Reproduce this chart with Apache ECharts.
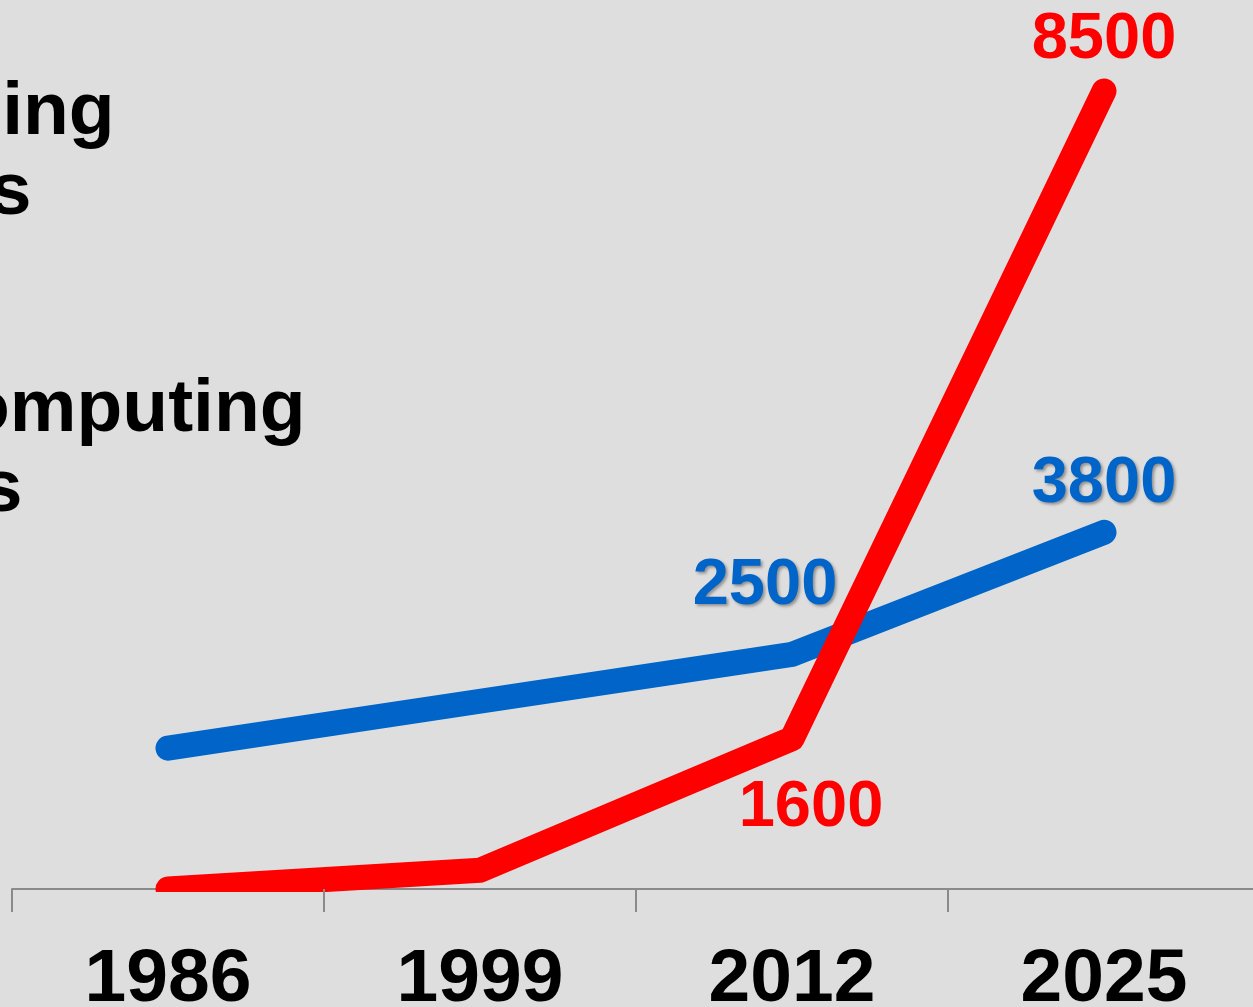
<!DOCTYPE html>
<html>
<head>
<meta charset="utf-8">
<script src="https://cdn.jsdelivr.net/npm/echarts@6/dist/echarts.min.js"></script>
<style>
  html, body { margin: 0; padding: 0; background: #dedede; }
  #chart { width: 1253px; height: 1007px; }
</style>
</head>
<body>
<div id="chart"></div>
<script>
// Years on the horizontal axis
const years = ['1986', '1999', '2012', '2025'];
// Red series (fast growth)
const trainingChips = [0, 200, 1600, 8500];
// Blue series (steady growth)
const computingChips = [1500, 2000, 2500, 3800];

const FONT = 'Liberation Sans, Arial, Helvetica, sans-serif';
const RED = '#ff0000';
const BLUE = '#0064c8';
const BG = '#dedede';

// Per-point label placement (only the later points carry a value label)
const redLabels = [null, null,
  { position: 'bottom', distance: 36, offset: [19, 0] },
  { position: 'top', distance: 17, offset: [0, 0] }];
const blueLabels = [null, null,
  { position: 'top', distance: 35, offset: [-27, 0] },
  { position: 'top', distance: 15, offset: [0, 0] }];

function buildData(values, labels, color, shadow) {
  return values.map((v, i) => {
    const l = labels[i];
    if (!l) return { value: v, label: { show: false } };
    const label = {
      show: true,
      position: l.position,
      distance: l.distance,
      offset: l.offset,
      formatter: '{c}',
      color: color,
      fontFamily: FONT,
      fontWeight: 'bold',
      fontSize: 65
    };
    if (shadow) {
      label.textShadowColor = 'rgba(0,0,0,0.35)';
      label.textShadowBlur = 3;
      label.textShadowOffsetX = 2;
      label.textShadowOffsetY = 2;
    }
    return { value: v, label: label };
  });
}

const chart = echarts.init(document.getElementById('chart'), null, { renderer: 'canvas' });

const legendText = {
  fontFamily: FONT,
  fontWeight: 'bold',
  fontSize: 75,
  lineHeight: 80,
  fill: '#000',
  verticalAlign: 'top',
  align: 'left'
};

chart.setOption({
  backgroundColor: BG,
  animation: false,
  grid: { left: 12, width: 1248, top: 0, bottom: 118, outerBoundsMode: 'none', containLabel: false },
  xAxis: [
    {
      // baseline only, drawn beneath the lines
      type: 'category',
      data: years,
      z: 1,
      axisLine: { show: true, lineStyle: { color: '#8a8a8a', width: 2 } },
      axisTick: { show: false },
      axisLabel: { show: false },
      splitLine: { show: false }
    },
    {
      // ticks and year labels, drawn on top
      type: 'category',
      data: years,
      position: 'bottom',
      offset: 0,
      z: 10,
      axisLine: { show: false },
      axisTick: { show: true, length: 23, lineStyle: { color: '#8a8a8a', width: 2 } },
      axisLabel: {
        show: true,
        margin: 54,
        color: '#000',
        fontFamily: FONT,
        fontWeight: 'bold',
        fontSize: 75
      },
      splitLine: { show: false }
    }
  ],
  yAxis: {
    type: 'value',
    min: 0,
    max: 9470,
    show: false,
    splitLine: { show: false }
  },
  graphic: [
    {
      // keeps the line caps from spilling below the baseline
      type: 'rect',
      z: 5,
      silent: true,
      shape: { x: 0, y: 892, width: 1253, height: 115 },
      style: { fill: BG }
    },
    {
      type: 'text',
      x: -177,
      y: 73,
      z: 6,
      style: Object.assign({ text: 'Training\nChips' }, legendText)
    },
    {
      type: 'text',
      x: -186,
      y: 370,
      z: 6,
      style: Object.assign({ text: 'AI Computing\nChips' }, legendText)
    }
  ],
  series: [
    {
      name: 'AI Computing Chips',
      type: 'line',
      xAxisIndex: 0,
      z: 2,
      data: buildData(computingChips, blueLabels, BLUE, true),
      symbol: 'circle',
      symbolSize: 2,
      showSymbol: true,
      itemStyle: { color: BLUE },
      lineStyle: { color: BLUE, width: 25, cap: 'round', join: 'round' },
      emphasis: { disabled: true }
    },
    {
      name: 'Training Chips',
      type: 'line',
      xAxisIndex: 0,
      z: 3,
      data: buildData(trainingChips, redLabels, RED, false),
      symbol: 'circle',
      symbolSize: 2,
      showSymbol: true,
      itemStyle: { color: RED },
      lineStyle: { color: RED, width: 25, cap: 'round', join: 'round' },
      emphasis: { disabled: true }
    }
  ]
});
</script>
</body>
</html>
